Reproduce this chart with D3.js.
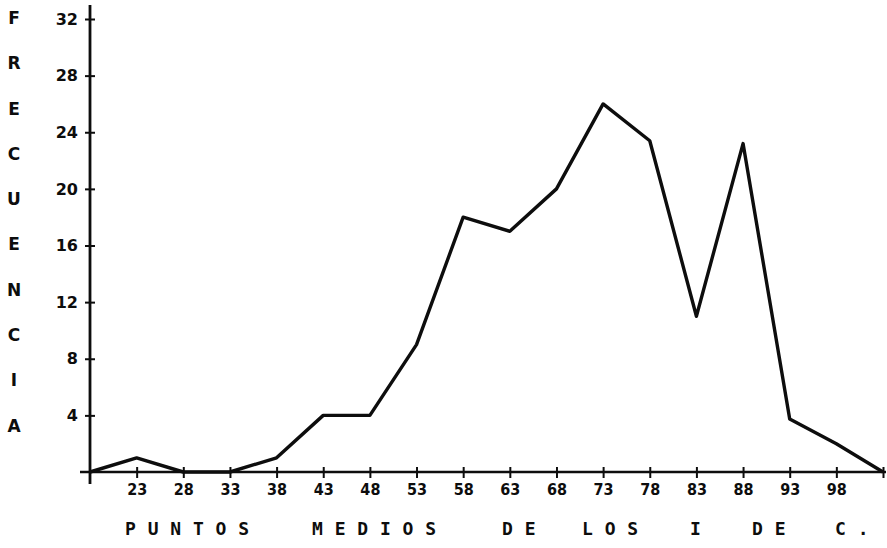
<!DOCTYPE html>
<html>
<head>
<meta charset="utf-8">
<script src="https://cdn.jsdelivr.net/npm/d3@7"></script>
<style>
  body { margin: 0; background: #fff; }
  svg { display: block; }
</style>
</head>
<body>
<div id="chart"></div>
<script>
const midpoints = [18, 23, 28, 33, 38, 43, 48, 53, 58, 63, 68, 73, 78, 83, 88, 93, 98, 103];
const frequencies = [0, 1, 0, 0, 1, 4, 4, 9, 18, 17, 20, 26, 23.4, 11, 23.2, 3.75, 2, 0];
const xTickValues = [23, 28, 33, 38, 43, 48, 53, 58, 63, 68, 73, 78, 83, 88, 93, 98];
const yTickValues = [4, 8, 12, 16, 20, 24, 28, 32];
const yTitle = 'FRECUENCIA';
const xTitleWords = ['PUNTOS', 'MEDIOS', 'DE', 'LOS', 'I', 'DE', 'C.'];

const width = 887, height = 548;
const ink = '#0d0d0d';

const svg = d3.select('#chart')
  .append('svg')
    .attr('width', width)
    .attr('height', height);

// scales: 18 sits on the y axis, 103 at the right end of the x axis
const x = d3.scaleLinear().domain([18, 103]).range([90, 883]);
const y = d3.scaleLinear().domain([0, 32]).range([472, 19]);

// axis lines, drawn long like the hand-ruled original
svg.append('line')
  .attr('x1', x(18)).attr('x2', x(18))
  .attr('y1', 5).attr('y2', y(0) + 12)
  .attr('stroke', ink).attr('stroke-width', 2.8);
svg.append('line')
  .attr('x1', x(18) - 10).attr('x2', x(103) + 3)
  .attr('y1', y(0)).attr('y2', y(0))
  .attr('stroke', ink).attr('stroke-width', 2.6);

// Y axis ticks and labels
const yAxis = svg.append('g')
  .attr('transform', 'translate(' + x(18) + ',0)')
  .call(d3.axisLeft(y).tickValues(yTickValues).tickSize(0).tickPadding(12));
yAxis.select('.domain').remove();
yAxis.selectAll('.tick line')
  .attr('x1', -5).attr('x2', 5)
  .attr('stroke', ink).attr('stroke-width', 2);
yAxis.selectAll('.tick text')
  .attr('fill', ink)
  .attr('font-family', 'DejaVu Sans, sans-serif')
  .attr('font-weight', 'bold')
  .attr('font-size', 16);

// X axis ticks and labels
const xAxis = svg.append('g')
  .attr('transform', 'translate(0,' + y(0) + ')')
  .call(d3.axisBottom(x).tickValues(xTickValues.concat([103])).tickSize(0).tickPadding(12)
    .tickFormat(function(d) { return d === 103 ? '' : d; }));
xAxis.select('.domain').remove();
xAxis.selectAll('.tick line')
  .attr('y1', -5).attr('y2', 6)
  .attr('stroke', ink).attr('stroke-width', 2);
xAxis.selectAll('.tick text')
  .attr('fill', ink)
  .attr('font-family', 'DejaVu Sans Condensed, DejaVu Sans, sans-serif')
  .attr('font-weight', 'bold')
  .attr('font-size', 16);

// the frequency polygon
const line = d3.line()
  .x(function(d) { return x(d[0]); })
  .y(function(d) { return y(d[1]); });

svg.append('path')
  .datum(d3.zip(midpoints, frequencies))
  .attr('d', line)
  .attr('fill', 'none')
  .attr('stroke', ink)
  .attr('stroke-width', 3.4)
  .attr('stroke-linejoin', 'round');

// vertical y title, one letter per row
svg.append('g')
  .selectAll('text')
  .data(yTitle.split(''))
  .enter().append('text')
    .attr('x', 14)
    .attr('y', function(d, i) { return 18 + i * 45.3; })
    .attr('dy', '0.35em')
    .attr('text-anchor', 'middle')
    .attr('fill', ink)
    .attr('font-family', 'DejaVu Sans, sans-serif')
    .attr('font-weight', 'bold')
    .attr('font-size', 17)
    .text(function(d) { return d; });

// spaced-out x title
const wordStarts = [125, 312, 502, 582, 690, 752, 835];
svg.append('g')
  .selectAll('text')
  .data(xTitleWords)
  .enter().append('text')
    .attr('x', function(d, i) { return wordStarts[i]; })
    .attr('y', 529)
    .attr('dy', '0.35em')
    .attr('fill', ink)
    .attr('font-family', 'DejaVu Sans Mono, monospace')
    .attr('font-weight', 'bold')
    .attr('font-size', 18)
    .attr('letter-spacing', 11.8)
    .text(function(d) { return d; });
</script>
</body>
</html>
